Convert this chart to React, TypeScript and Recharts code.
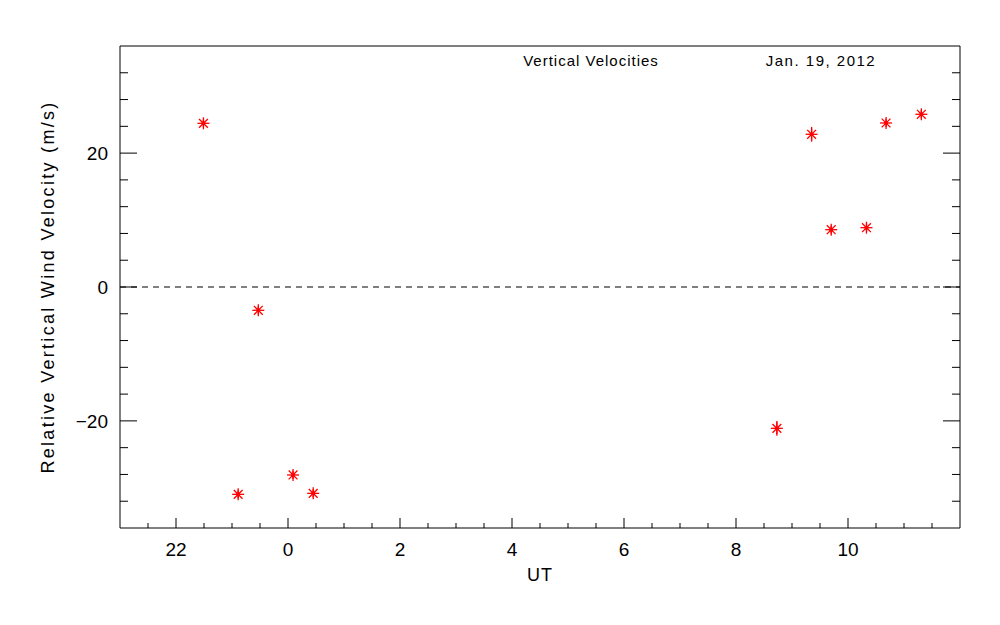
import React from "react";
import {
  ScatterChart,
  Scatter,
  XAxis,
  YAxis,
  ReferenceLine,
  ErrorBar,
  Label,
} from "recharts";

// UT in continuous hours (24 = 0 UT of the next day)
const utHours = [22.49, 23.11, 23.47, 24.09, 24.45, 32.73, 33.35, 33.7, 34.33, 34.68, 35.31];
const verticalVel = [24.45, -30.97, -3.48, -28.08, -30.82, -21.11, 22.81, 8.56, 8.86, 24.5, 25.8];
const velError = [0.6, 0.6, 0.6, 0.6, 0.6, 1.1, 1.1, 0.6, 0.6, 0.6, 0.6];

const xTicks = [
  21.5, 22, 22.5, 23, 23.5, 24, 24.5, 25, 25.5, 26, 26.5, 27, 27.5, 28, 28.5,
  29, 29.5, 30, 30.5, 31, 31.5, 32, 32.5, 33, 33.5, 34, 34.5, 35, 35.5,
];
const yTicks = [-32, -28, -24, -20, -16, -12, -8, -4, 0, 4, 8, 12, 16, 20, 24, 28, 32];

const data = utHours.map((ut, i) => ({ ut, vel: verticalVel[i], err: velError[i] }));

const FONT = "'Liberation Sans', Arial, sans-serif";
const RED = "#ff0000";

const isMajorX = (v: number) => v % 2 === 0;
const isMajorY = (v: number) => v % 20 === 0;
const fmtUT = (v: number) => String(v % 24);
const fmtVel = (v: number) => (v < 0 ? "\u2212" + Math.abs(v) : String(v));

const BottomTick = (props: any) => {
  const { x, y, payload } = props;
  const major = isMajorX(payload.value);
  return (
    <g>
      <line x1={x} y1={y} x2={x} y2={y - (major ? 10 : 5)} stroke="#000" />
      {major && (
        <text x={x} y={y + 28} textAnchor="middle" fontSize={19} fontFamily={FONT} fill="#000">
          {fmtUT(payload.value)}
        </text>
      )}
    </g>
  );
};

const TopTick = (props: any) => {
  const { x, y, payload } = props;
  const major = isMajorX(payload.value);
  return <line x1={x} y1={y} x2={x} y2={y + (major ? 10 : 5)} stroke="#000" />;
};

const LeftTick = (props: any) => {
  const { x, y, payload } = props;
  const major = isMajorY(payload.value);
  return (
    <g>
      <line x1={x} y1={y} x2={x + (major ? 17 : 8)} y2={y} stroke="#000" />
      {major && (
        <text x={x - 12} y={y + 7} textAnchor="end" fontSize={19} fontFamily={FONT} fill="#000">
          {fmtVel(payload.value)}
        </text>
      )}
    </g>
  );
};

const RightTick = (props: any) => {
  const { x, y, payload } = props;
  const major = isMajorY(payload.value);
  return <line x1={x} y1={y} x2={x - (major ? 17 : 8)} y2={y} stroke="#000" />;
};

const Asterisk = (props: any) => {
  const { cx, cy } = props;
  const r = 6;
  const d = 4.4;
  return (
    <g stroke={RED} strokeWidth={1.3}>
      <line x1={cx - r} y1={cy} x2={cx + r} y2={cy} />
      <line x1={cx} y1={cy - r} x2={cx} y2={cy + r} />
      <line x1={cx - d} y1={cy - d} x2={cx + d} y2={cy + d} />
      <line x1={cx - d} y1={cy + d} x2={cx + d} y2={cy - d} />
      <circle cx={cx} cy={cy} r={2} fill={RED} stroke="none" />
    </g>
  );
};

export default function App() {
  return (
    <div style={{ position: "absolute", left: 0, top: 0, width: 1000, height: 625, background: "#fff" }}>
      <ScatterChart width={1000} height={625} margin={{ top: 45, right: 39, bottom: 27, left: 0 }}>
        <XAxis
          dataKey="ut"
          type="number"
          domain={[21, 36]}
          allowDataOverflow
          ticks={xTicks}
          interval={0}
          tickSize={0}
          tickMargin={0}
          tickLine={false}
          tick={<BottomTick />}
          axisLine={{ stroke: "#000" }}
          height={70}
        >
          <Label
            value="UT"
            position="insideBottom"
            offset={17}
            fontSize={18}
            fontFamily={FONT}
            fill="#000"
            letterSpacing={1}
          />
        </XAxis>
        <XAxis
          xAxisId="top"
          orientation="top"
          type="number"
          domain={[21, 36]}
          allowDataOverflow
          ticks={xTicks}
          interval={0}
          tickSize={0}
          tickMargin={0}
          tickLine={false}
          tick={<TopTick />}
          axisLine={{ stroke: "#000" }}
          height={1}
        />
        <YAxis
          dataKey="vel"
          type="number"
          domain={[-36, 36]}
          allowDataOverflow
          ticks={yTicks}
          interval={0}
          tickSize={0}
          tickMargin={0}
          tickLine={false}
          tick={<LeftTick />}
          axisLine={{ stroke: "#000" }}
          width={120}
        >
          <Label
            value="Relative Vertical Wind Velocity (m/s)"
            angle={-90}
            position="insideLeft"
            offset={48}
            fontSize={18}
            fontFamily={FONT}
            fill="#000"
            letterSpacing={2.3}
            style={{ textAnchor: "middle" }}
          />
        </YAxis>
        <YAxis
          yAxisId="right"
          orientation="right"
          type="number"
          domain={[-36, 36]}
          allowDataOverflow
          ticks={yTicks}
          interval={0}
          tickSize={0}
          tickMargin={0}
          tickLine={false}
          tick={<RightTick />}
          axisLine={{ stroke: "#000" }}
          width={1}
        />
        <ReferenceLine y={0} stroke="#000" strokeDasharray="6 5" />
        <Scatter data={data} shape={<Asterisk />} isAnimationActive={false}>
          <ErrorBar dataKey="err" direction="y" width={0} stroke={RED} strokeWidth={1.3} />
        </Scatter>
      </ScatterChart>
      <svg
        width={1000}
        height={625}
        style={{ position: "absolute", left: 0, top: 0, pointerEvents: "none" }}
      >
        <text x={591} y={66} textAnchor="middle" fontSize={15} fontFamily={FONT} letterSpacing={1} fill="#000">
          Vertical Velocities
        </text>
        <text x={821} y={66} textAnchor="middle" fontSize={15} fontFamily={FONT} letterSpacing={1.5} fill="#000">
          Jan. 19, 2012
        </text>
      </svg>
    </div>
  );
}
